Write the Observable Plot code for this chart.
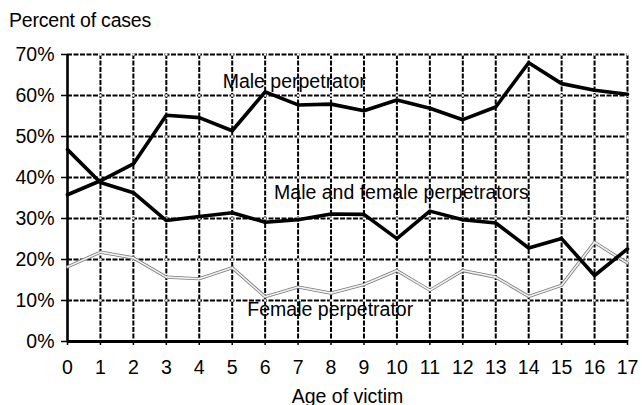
<!DOCTYPE html>
<html>
<head>
<meta charset="utf-8">
<script src="https://cdn.jsdelivr.net/npm/d3@7"></script>
<script src="https://cdn.jsdelivr.net/npm/@observablehq/plot@0.6"></script>
<style>
  html, body { margin: 0; padding: 0; background: #fff; }
  #wrap { width: 642px; font-family: "Liberation Sans", Arial, Helvetica, sans-serif; color: #000; }
  #title { position: relative; height: 32px; }
  #title span { position: absolute; left: 9px; top: 10px; font-size: 19.5px; line-height: 20px; letter-spacing: -0.2px; }
  svg { display: block; }
</style>
</head>
<body>
<div id="wrap">
  <div id="title"><span>Percent of cases</span></div>
  <div id="chart"></div>
</div>
<script>
const ages = [0,1,2,3,4,5,6,7,8,9,10,11,12,13,14,15,16,17];
const malePerp = [35.8,39.2,43.3,55.2,54.6,51.4,60.9,57.7,57.9,56.3,58.9,56.9,54.1,57.2,68.0,62.9,61.3,60.3];
const maleFemalePerp = [46.8,38.8,36.3,29.5,30.5,31.4,29.1,29.7,31.1,31.0,25.1,31.8,29.7,28.9,22.8,25.1,16.1,22.6];
const femalePerp = [18.2,21.8,20.4,15.7,15.3,18.0,10.9,13.3,11.8,13.9,17.3,12.5,17.3,15.7,11.0,13.7,24.2,19.1];
const yTicks = [0,10,20,30,40,50,60,70];
const seriesLabels = [
  {label: "Male perpetrator", x: 4.71, y: 61.8},
  {label: "Male and female perpetrators", x: 6.27, y: 34.8},
  {label: "Female perpetrator", x: 5.46, y: 6.2}
];

const toRows = vals => ages.map((a, i) => ({age: a, value: vals[i]}));
const male = toRows(malePerp);
const mf = toRows(maleFemalePerp);
const fem = toRows(femalePerp);
const intersections = ages.slice(1).flatMap(a => yTicks.slice(1).map(v => ({age: a, value: v})));

const font = "Liberation Sans, Arial, Helvetica, sans-serif";

const chart = Plot.plot({
  width: 642,
  height: 373,
  marginLeft: 67,
  marginRight: 15,
  marginTop: 22,
  marginBottom: 64,
  style: {fontFamily: font, fontSize: "19.5px", color: "#000", background: "#fff", overflow: "visible"},
  x: {domain: [0, 17]},
  y: {domain: [0, 70]},
  marks: [
    Plot.gridX(ages.slice(1), {stroke: "#000", strokeOpacity: 1, strokeWidth: 2, strokeDasharray: "5,1.5"}),
    Plot.gridY(yTicks.slice(1), {stroke: "#000", strokeOpacity: 1, strokeWidth: 2, strokeDasharray: "5,1.5"}),
    Plot.dot(intersections, {x: "age", y: "value", r: 1.2, fill: "#fff", stroke: null}),
    Plot.axisY(yTicks, {tickSize: 6, tickPadding: 7, tickFormat: d => d + "%", fontSize: 19.5, label: null, strokeWidth: 1.5}),
    Plot.axisX(ages, {tickSize: 4, tickPadding: 15, fontSize: 19.5, label: null, strokeWidth: 1.5}),
    Plot.ruleX([0], {stroke: "#000", strokeWidth: 2.6}),
    Plot.ruleY([0], {stroke: "#000", strokeWidth: 3}),
    Plot.line(fem, {x: "age", y: "value", stroke: "#7a7a7a", strokeWidth: 3.2}),
    Plot.line(fem, {x: "age", y: "value", stroke: "#f2f2f2", strokeWidth: 1.6}),
    Plot.line(mf, {x: "age", y: "value", stroke: "#000", strokeWidth: 3.6}),
    Plot.line(male, {x: "age", y: "value", stroke: "#000", strokeWidth: 3.6}),
    Plot.text(seriesLabels, {x: "x", y: "y", text: "label", textAnchor: "start", lineAnchor: "bottom", fontSize: 19.5, fill: "#000"}),
    Plot.text(["Age of victim"], {frameAnchor: "bottom", dy: 61, lineAnchor: "bottom", fontSize: 19.5, fill: "#000"})
  ]
});
document.getElementById("chart").appendChild(chart);
</script>
</body>
</html>
